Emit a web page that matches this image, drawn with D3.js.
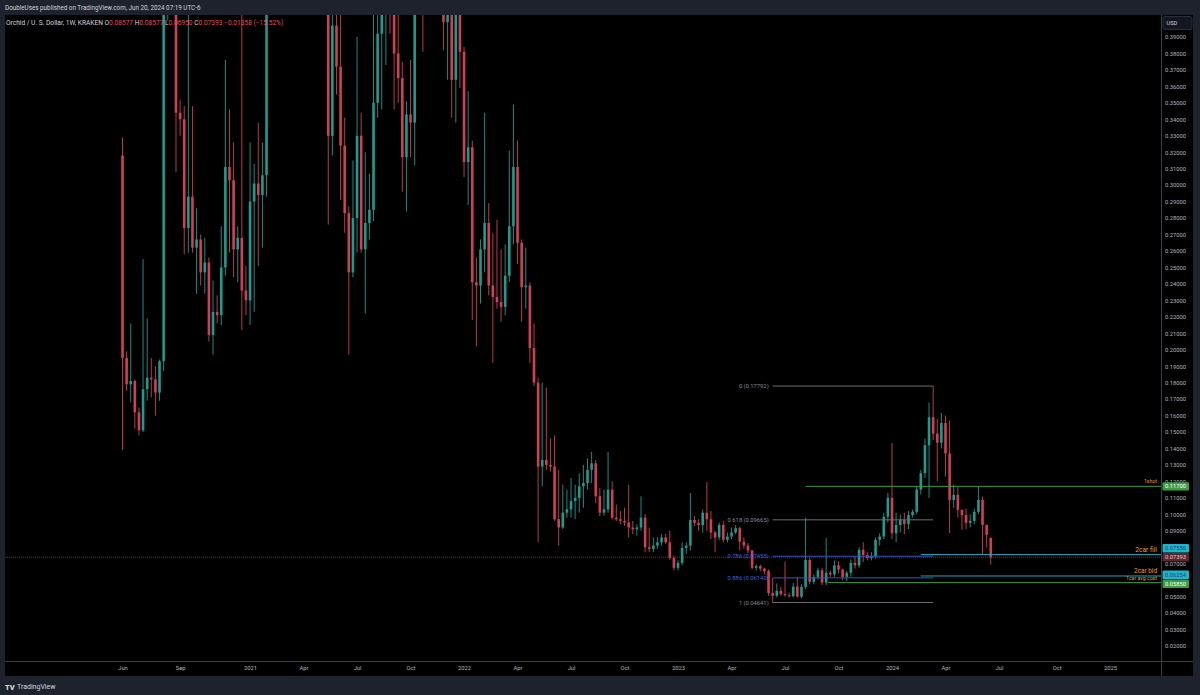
<!DOCTYPE html>
<html><head><meta charset="utf-8">
<script src="https://cdn.jsdelivr.net/npm/d3@7/dist/d3.min.js"></script>
<style>
html,body{margin:0;padding:0;background:#1e222d;overflow:hidden;}
svg{display:block;font-family:Roboto,"Noto Sans",sans-serif;}
</style></head><body>
<svg id="c" width="1200" height="695"></svg>
<script>
// ---------- DATA (weekly candles, OXT/USD Kraken) ----------
const startDate = "2020-06-01";
const opens = [
.318,.195,.179,.181,.162,.151,.176,.183,.182,.174,
.193,.420,.500,.430,.344,.340,.274,.293,.262,.267,
.247,.253,.209,.223,.221,.250,.311,.303,.261,.268,
.236,.230,.290,.301,.294,.306,.58,.68,.72,.60,
.65,.62,.58,.55,.75,.90,.80,.68,.72,.70,
.50,.330,.397,.372,.324,.283,.247,.280,.330,.261,
.277,.285,.350,.392,.43,.46,.45,.380,.365,.317,
.343,.338,.45,.48,.42,.46,.47,.44,.45,.399,
.43,.364,.42,.381,.314,.323,.241,.239,.261,.277,
.239,.232,.229,.226,.245,.275,.311,.265,.238,.239,
.201,.180,.129,.133,.130,.129,.097,.092,.101,.103,
.108,.110,.117,.119,.127,.131,.111,.101,.103,.115,
.098,.097,.096,.095,.092,.091,.092,.098,.080,.079,
.081,.083,.086,.083,.0735,.0675,.0705,.0796,.081,.0966,
.0948,.0935,.101,.097,.089,.086,.0935,.0845,.0865,.089,
.0916,.0834,.0810,.0780,.0675,.0685,.0670,.0655,.0522,.0505,
.0535,.0515,.0508,.0503,.0561,.0500,.0559,.0723,.0590,.0620,
.0660,.0585,.0645,.0635,.0690,.0665,.0620,.0645,.0705,.0690,
.0784,.0753,.0735,.0745,.0845,.0865,.0985,.110,.0885,.0935,
.0965,.094,.0995,.1015,.115,.125,.142,.159,.149,.1435,
.1555,.137,.1087,.1118,.1027,.0996,.0948,.0960,.1015,.1087,
.0936,.08577];
const highs = [
.329,.199,.216,.182,.165,.255,.219,.195,.190,.194,
.450,.560,.530,.450,.352,.348,.405,.348,.286,.270,
.268,.256,.242,.233,.275,.376,.346,.326,.275,.405,
.251,.326,.313,.338,.326,.62,.75,.80,.74,.70,
.72,.68,.62,.80,1.00,1.10,.85,.80,.90,.75,
.52,.43,.41,.41,.341,.287,.315,.390,.344,.320,
.307,.41,.41,.47,.50,.52,.47,.41,.375,.351,
.376,.47,.52,.50,.48,.52,.50,.48,.47,.45,
.45,.44,.44,.384,.357,.327,.256,.267,.344,.289,
.271,.279,.261,.264,.321,.349,.327,.267,.262,.241,
.216,.183,.180,.177,.146,.148,.127,.118,.115,.122,
.118,.125,.130,.134,.138,.133,.116,.115,.138,.120,
.106,.102,.104,.118,.096,.094,.111,.100,.092,.086,
.086,.088,.088,.090,.075,.072,.083,.083,.113,.099,
.097,.103,.1196,.102,.090,.095,.096,.089,.092,.0935,
.0925,.086,.0825,.0785,.0695,.0695,.0675,.0665,.0614,.058,
.056,.0713,.0525,.0583,.0620,.0575,.0978,.0735,.0635,.0675,
.0675,.0857,.066,.0720,.0715,.0670,.0655,.0725,.0740,.0800,
.0830,.0770,.0770,.0860,.0885,.101,.113,.1434,.101,.100,
.101,.102,.103,.117,.127,.146,.168,.17792,.158,.1615,
.160,.157,.118,.1166,.103,.1035,.100,.1035,.117,.1108,
.0937,.08577];
const lows = [
.139,.175,.168,.152,.148,.150,.169,.171,.160,.169,
.187,.400,.410,.308,.330,.258,.259,.259,.234,.239,
.234,.205,.197,.216,.215,.245,.259,.244,.241,.212,
.221,.215,.223,.251,.262,.293,.52,.60,.48,.55,
.58,.52,.46,.53,.70,.75,.55,.65,.65,.45,
.276,.318,.355,.291,.271,.197,.244,.259,.259,.222,
.267,.278,.341,.346,.373,.392,.346,.350,.296,.284,
.317,.312,.42,.381,.41,.43,.42,.41,.382,.364,
.341,.338,.359,.305,.288,.218,.202,.228,.247,.233,
.192,.225,.217,.221,.241,.264,.252,.217,.225,.192,
.178,.083,.117,.127,.126,.096,.081,.091,.098,.098,
.097,.101,.104,.115,.119,.107,.099,.099,.101,.097,
.096,.094,.093,.086,.088,.087,.090,.077,.077,.077,
.079,.081,.082,.0723,.066,.066,.069,.076,.078,.093,
.090,.089,.090,.085,.077,.0845,.083,.083,.085,.088,
.078,.079,.0765,.0665,.066,.0655,.0635,.0505,.04641,.0495,
.0505,.0500,.0495,.0495,.0495,.0490,.0545,.0575,.0575,.0605,
.0570,.0570,.062,.0620,.0640,.0600,.0595,.0620,.0670,.0675,
.0710,.0720,.0720,.0730,.081,.085,.095,.085,.083,.089,
.088,.091,.098,.100,.112,.122,.110,.145,.120,.140,
.123,.0887,.104,.098,.0905,.091,.092,.094,.100,.0753,
.080,.06950];
const closes = [
.195,.179,.181,.162,.151,.176,.183,.182,.174,.193,
.420,.500,.430,.344,.340,.274,.293,.262,.267,.247,
.253,.209,.223,.221,.250,.311,.303,.261,.268,.236,
.230,.290,.301,.294,.306,.58,.68,.72,.60,.65,
.62,.58,.55,.75,.90,.80,.68,.72,.70,.50,
.330,.397,.372,.324,.283,.247,.280,.330,.261,.277,
.285,.350,.392,.43,.46,.45,.380,.365,.317,.343,
.338,.45,.48,.42,.46,.47,.44,.45,.399,.43,
.364,.42,.381,.314,.323,.241,.239,.261,.277,.239,
.232,.229,.226,.245,.275,.311,.265,.238,.239,.201,
.180,.129,.133,.130,.129,.097,.092,.101,.103,.108,
.110,.117,.119,.127,.131,.111,.101,.103,.115,.098,
.097,.096,.095,.092,.091,.092,.098,.080,.079,.081,
.083,.086,.083,.0735,.0675,.0705,.0796,.081,.0966,.0948,
.0935,.101,.097,.089,.086,.0935,.0845,.0865,.089,.0916,
.0834,.0810,.0780,.0675,.0685,.0670,.0655,.0522,.0505,.0535,
.0515,.0508,.0503,.0561,.0500,.0559,.0723,.0590,.0620,.0660,
.0585,.0645,.0635,.0690,.0665,.0620,.0645,.0705,.0690,.0784,
.0753,.0735,.0745,.0845,.0865,.0985,.110,.0885,.0935,.0965,
.094,.0995,.1015,.115,.125,.142,.159,.149,.1435,.1555,
.137,.1087,.1118,.1027,.0996,.0948,.0960,.1015,.1087,.0936,
.08751,.07393];

const priceTickValues = [0.02,0.03,0.04,0.05,0.06,0.07,0.08,0.09,0.10,0.11,0.12,0.13,0.14,0.15,0.16,0.17,0.18,0.19,0.20,
  0.21,0.22,0.23,0.24,0.25,0.26,0.27,0.28,0.29,0.30,0.31,0.32,0.33,0.34,0.35,0.36,0.37,0.38,0.39];
const timeTickDates = ["2020-06-01","2020-09-07","2021-01-04","2021-04-05","2021-07-05","2021-10-04","2022-01-03",
  "2022-04-04","2022-07-04","2022-10-03","2023-01-02","2023-04-03","2023-07-03","2023-10-02","2024-01-01",
  "2024-04-01","2024-07-01","2024-10-07","2025-01-06"];
const timeTickLabels = ["Jun","Sep","2021","Apr","Jul","Oct","2022","Apr","Jul","Oct","2023","Apr","Jul","Oct",
  "2024","Apr","Jul","Oct","2025"];

// Fibonacci retracement (anchors: bar indices of low and high)
const fibLowBar = 158, fibHighBar = 197;
const fibLabels = ["0 (0.17792)","0.618 (0.09665)","0.786 (0.07455)","0.886 (0.06140)","1 (0.04641)"];
const fibValues = [0.17792, 0.09665, 0.07455, 0.06140, 0.04641];

// User horizontal rays
const rayNames = ["1shot","2car fill","2car bid","1car avg cost"];
const rayValues = [0.11700, 0.07556, 0.06254, 0.05850];
const rayStartBars = [166, 194, 194, 171.5];
const rayTextSizes = [5.2, 6.7, 6.4, 5.2];

const lastPrice = 0.07393;

// ---------- DRAW ----------
const svg = d3.select("#c");
const W = 1200, H = 695;
const PL = 5, PT = 15, PR = 1161, PB = 661, OR = 1193, OB = 676;
const colUp = "#1f9a8e", colDn = "#cf4057";
const axisTxt = "#b2b5be";

svg.append("rect").attr("width", W).attr("height", H).attr("fill", "#1e222d");
svg.append("rect").attr("x", PL).attr("y", PT).attr("width", OR - PL).attr("height", OB - PT).attr("fill", "#000");

const parse = d3.utcParse("%Y-%m-%d");
const t0 = parse(startDate);
const dates = opens.map((_, i) => d3.utcDay.offset(t0, 7 * i));
const barDate = b => new Date(+t0 + b * 7 * 864e5);

const x = d3.scaleUtc().domain([t0, parse("2025-01-06")]).range([122.5, 1110.1]);
const y = d3.scaleLinear().domain([0.02, 0.39]).range([646, 37]);

svg.append("defs").append("clipPath").attr("id", "plot")
  .append("rect").attr("x", PL).attr("y", PT).attr("width", PR - PL).attr("height", PB - PT);

const plot = svg.append("g").attr("clip-path", "url(#plot)");

// last price line
plot.append("line").attr("x1", PL).attr("x2", PR).attr("y1", y(lastPrice)).attr("y2", y(lastPrice))
  .attr("stroke", "#6d2c37").attr("stroke-width", 1).attr("stroke-dasharray", "1,1");

// candles
const candles = plot.append("g").selectAll("g").data(dates).join("g");
candles.append("line")
  .attr("x1", (d) => x(d)).attr("x2", (d) => x(d))
  .attr("y1", (d, i) => y(highs[i])).attr("y2", (d, i) => y(lows[i]))
  .attr("stroke", (d, i) => closes[i] >= opens[i] ? colUp : colDn).attr("stroke-width", 0.9);
candles.append("rect")
  .attr("x", (d) => x(d) - 1.3).attr("width", 2.6)
  .attr("y", (d, i) => y(Math.max(opens[i], closes[i])))
  .attr("height", (d, i) => Math.max(1, Math.abs(y(opens[i]) - y(closes[i]))))
  .attr("fill", (d, i) => closes[i] >= opens[i] ? colUp : colDn);

// fib retracement
const fx1 = x(dates[fibLowBar]), fx2 = x(dates[fibHighBar]);
const fibColors = ["#6a6d78", "#6a6d78", "#2f55c4", "#2f55c4", "#6a6d78"];
const fibTextColors = ["#8a8d97", "#8a8d97", "#3a66e0", "#3a66e0", "#8a8d97"];
fibValues.forEach((v, k) => {
  plot.append("line").attr("x1", fx1).attr("x2", fx2).attr("y1", y(v)).attr("y2", y(v))
    .attr("stroke", fibColors[k]).attr("stroke-width", 1);
  plot.append("text").attr("x", fx1 - 4).attr("y", y(v)).attr("dy", "0.35em")
    .attr("text-anchor", "end").attr("font-size", 5.8).attr("fill", fibTextColors[k]).text(fibLabels[k]);
});

// horizontal rays
const rayColors = ["#3f9a45", "#1fa7b8", "#1fa7b8", "#3f9a45"];
rayValues.forEach((v, k) => {
  plot.append("line").attr("x1", x(barDate(rayStartBars[k]))).attr("x2", PR)
    .attr("y1", y(v)).attr("y2", y(v)).attr("stroke", rayColors[k]).attr("stroke-width", 1);
  plot.append("text").attr("x", PR - 4).attr("y", y(v) - 3).attr("text-anchor", "end")
    .attr("font-size", rayTextSizes[k]).attr("fill", "#e89a2c").text(rayNames[k]);
});

// separators
svg.append("line").attr("x1", PL).attr("x2", OR).attr("y1", PB + 0.5).attr("y2", PB + 0.5).attr("stroke", "#3a3e48");
svg.append("line").attr("x1", PR + 0.5).attr("x2", PR + 0.5).attr("y1", PT).attr("y2", OB).attr("stroke", "#3a3e48");

// axis value boxes (positions resolved so they do not overlap)
const boxes = [
  {v: rayValues[0], bg: "#3e9b45", fg: "#ffffff", fixed: false},
  {v: rayValues[1], bg: "#22b3c7", fg: "#1c3f86", fixed: false},
  {v: lastPrice, bg: "#5a2630", fg: "#f3c4ca", fixed: true},
  {v: rayValues[2], bg: "#22b3c7", fg: "#1c3f86", fixed: false},
  {v: rayValues[3], bg: "#3e9b45", fg: "#ffffff", fixed: false},
];
const BH = 8.4;
boxes.forEach(b => b.cy = y(b.v));
boxes.sort((a, b) => a.cy - b.cy);
for (let it = 0; it < 50; it++) {
  for (let k = 0; k < boxes.length - 1; k++) {
    const a = boxes[k], b = boxes[k + 1];
    const ov = BH + 0.6 - (b.cy - a.cy);
    if (ov > 0) {
      if (a.fixed) b.cy += ov; else if (b.fixed) a.cy -= ov; else { a.cy -= ov / 2; b.cy += ov / 2; }
    }
  }
}

// price axis (labels hidden where a value box sits on them)
const visibleTicks = priceTickValues.filter(v => !boxes.some(b => Math.abs(y(v) - b.cy) < BH / 2 - 0.5));
const yAxis = d3.axisRight(y).tickValues(visibleTicks).tickFormat(d3.format(".5f")).tickSize(0).tickPadding(4);
const ya = svg.append("g").attr("transform", `translate(${PR},0)`).call(yAxis);
ya.select(".domain").remove();
ya.selectAll("text").attr("fill", axisTxt).attr("font-size", 5.8).attr("font-family", "Roboto,sans-serif");

// time axis
const xAxis = d3.axisBottom(x).tickValues(timeTickDates.map(parse)).tickFormat((d, i) => timeTickLabels[i]).tickSize(0).tickPadding(5);
const xa = svg.append("g").attr("transform", `translate(0,${PB})`).call(xAxis);
xa.select(".domain").remove();
xa.selectAll("text").attr("fill", axisTxt).attr("font-size", 5.8).attr("font-family", "Roboto,sans-serif");

boxes.forEach(b => {
  svg.append("rect").attr("x", PR + 1.5).attr("y", b.cy - BH / 2).attr("width", 26.5).attr("height", BH)
    .attr("rx", 1).attr("fill", b.bg);
  svg.append("text").attr("x", PR + 4).attr("y", b.cy).attr("dy", "0.36em").attr("font-size", 5.8)
    .attr("fill", b.fg).text(d3.format(".5f")(b.v));
});

// USD button
svg.append("rect").attr("x", 1163).attr("y", 16.5).attr("width", 29).attr("height", 13).attr("rx", 2)
  .attr("fill", "#131722").attr("stroke", "#2a2e39");
svg.append("text").attr("x", 1166.5).attr("y", 23).attr("dy", "0.35em").attr("font-size", 5.6).attr("fill", "#d1d4dc").text("USD");

// header
svg.append("text").attr("x", 5).attr("y", 7.5).attr("dy", "0.35em").attr("font-size", 6.3).attr("fill", "#d1d4dc")
  .text("DoubleUses published on TradingView.com, Jun 20, 2024 07:19 UTC-6");
const fmt5 = d3.format(".5f");
const n = closes.length - 1;
const chg = closes[n] - closes[n - 1];
const leg = svg.append("text").attr("x", 6).attr("y", 22.5).attr("dy", "0.35em").attr("font-size", 6.6).attr("fill", "#d1d4dc");
const red = "#e0505f";
leg.append("tspan").text("Orchid / U. S. Dollar, 1W, KRAKEN  ");
[["O", opens[n]], ["H", highs[n]], ["L", lows[n]], ["C", closes[n]]].forEach(([k, v]) => {
  leg.append("tspan").attr("fill", "#d1d4dc").text(" " + k);
  leg.append("tspan").attr("fill", red).text(fmt5(v));
});
leg.append("tspan").attr("fill", red).text("  \u2212" + fmt5(Math.abs(chg)) + " (\u2212" + (Math.abs(chg) / closes[n - 1] * 100).toFixed(2) + "%)");

// footer logo
svg.append("text").attr("x", 5).attr("y", 687).attr("dy", "0.35em").attr("font-size", 7.5).attr("font-weight", 900)
  .attr("fill", "#d1d4dc").text("TV");
svg.append("text").attr("x", 17).attr("y", 687).attr("dy", "0.35em").attr("font-size", 7).attr("fill", "#d1d4dc").text("TradingView");
</script>
</body></html>
